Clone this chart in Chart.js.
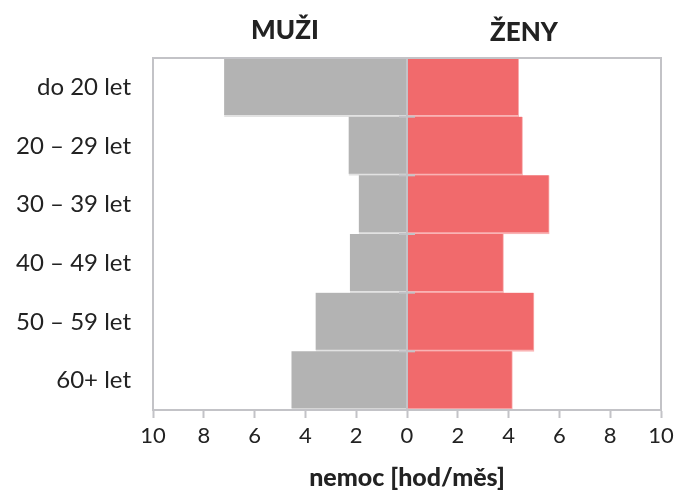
<!DOCTYPE html>
<html><head><meta charset="utf-8">
<script src="https://cdn.jsdelivr.net/npm/chart.js@4/dist/chart.umd.min.js"></script>
<style>html,body{margin:0;padding:0;background:#fff}#wrap{width:677px;height:493px}</style>
</head><body><div id="wrap"><canvas id="c" width="677" height="493"></canvas></div>
<script>
const categories = ["do 20 let","20 – 29 let","30 – 39 let","40 – 49 let","50 – 59 let","60+ let"];
const muzi = [7.2, 2.3, 1.9, 2.25, 3.6, 4.55];
const zeny = [4.4, 4.55, 5.6, 3.8, 5.0, 4.15];
const groupTitles = ["MUŽI","ŽENY"];
const axisTitle = "nemoc [hod/měs]";
const FONT = "Lato";
const AXIS = "#c3c3c7";

const frame = {
  id:'frame',
  afterDatasetsDraw(chart){
    const {ctx, chartArea:a, scales:{x,y}} = chart;
    ctx.save();
    ctx.strokeStyle = AXIS; ctx.lineWidth = 2;
    ctx.strokeRect(a.left, a.top, a.right-a.left, a.bottom-a.top);
    const x0 = x.getPixelForValue(0);
    ctx.beginPath(); ctx.moveTo(x0, a.top); ctx.lineTo(x0, a.bottom); ctx.stroke();
    for (let i=0;i<categories.length-1;i++){
      const yy = y.getPixelForValue(i+0.5);
      ctx.beginPath(); ctx.moveTo(x0-8, yy); ctx.lineTo(x0+8, yy); ctx.stroke();
    }
    ctx.fillStyle = "#222";
    ctx.font = "900 26px " + FONT;
    ctx.textAlign = "center"; ctx.textBaseline = "middle";
    ctx.fillText(groupTitles[0], (x.getPixelForValue(-10)+x0)/2 + 5, 31);
    ctx.fillText(groupTitles[1], (x.getPixelForValue(10)+x0)/2 - 10, 33);
    ctx.restore();
  }
};

new Chart(document.getElementById('c'), {
  type:'bar',
  data:{labels:categories, datasets:[
    {label:groupTitles[0], data:muzi.map(v=>-v), backgroundColor:"#b3b3b3", borderColor:"#e2e2e2", borderWidth:{bottom:2,top:0,left:0,right:0}, borderSkipped:false, barPercentage:1, categoryPercentage:1},
    {label:groupTitles[1], data:zeny, backgroundColor:"#f16a6c", borderColor:"#f9b3b4", borderWidth:{bottom:2,top:0,left:0,right:1}, borderSkipped:false, barPercentage:1, categoryPercentage:1}
  ]},
  options:{
    indexAxis:'y', responsive:false, animation:false,
    layout:{padding:{top:58,right:0,left:0,bottom:0}},
    plugins:{legend:{display:false}, tooltip:{enabled:false}},
    scales:{
      x:{stacked:true, min:-10, max:10,
        ticks:{stepSize:2, callback:v=>Math.abs(v), color:"#222", font:{family:FONT,size:22}, padding:5},
        grid:{drawOnChartArea:false, tickLength:8, tickColor:AXIS, tickWidth:2},
        border:{display:true, color:AXIS, width:2},
        title:{display:true, text:axisTitle, color:"#222", font:{family:FONT,size:25,weight:'900'}, padding:{top:2,bottom:0}},
        afterFit(s){ s.height = 83; s.paddingRight = 16; s.paddingLeft = 0; }
      },
      y:{stacked:true,
        ticks:{color:"#222", font:{family:FONT,size:24}, padding:22},
        grid:{display:false, drawTicks:false},
        border:{display:false},
        afterFit(s){ s.width = 153; }
      }
    }
  },
  plugins:[frame]
});
</script></body></html>
